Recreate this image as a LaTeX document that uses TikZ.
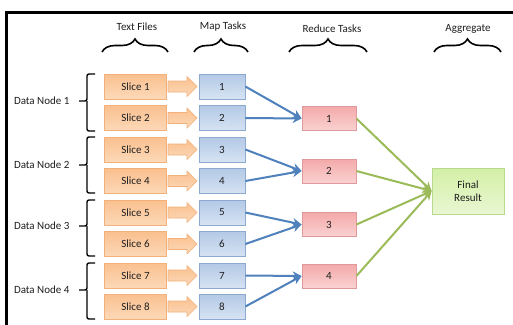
\documentclass[tikz,border=0pt]{standalone}
\usepackage{fontspec}
\setmainfont{Carlito}
\usetikzlibrary{decorations.pathreplacing,arrows.meta}
\definecolor{slicetop}{HTML}{FAC08F}
\definecolor{slicebot}{HTML}{FCD9B8}
\definecolor{sliceline}{HTML}{F2B07A}
\definecolor{maptop}{HTML}{B3C9E6}
\definecolor{mapbot}{HTML}{D6E3F3}
\definecolor{mapline}{HTML}{8EA9D0}
\definecolor{redtop}{HTML}{F4A9A9}
\definecolor{redbot}{HTML}{FAD2D2}
\definecolor{redline}{HTML}{DE9A9A}
\definecolor{fintop}{HTML}{D3EFA6}
\definecolor{finbot}{HTML}{E9F7D2}
\definecolor{finline}{HTML}{B9D98E}
\definecolor{bluearrow}{HTML}{4F81BD}
\definecolor{greenarrow}{HTML}{9BBB59}
\definecolor{txt}{HTML}{1F1F1F}
\tikzset{
  box/.style={draw, line width=0.8pt, minimum height=25pt, inner sep=0pt, text=txt},
  slice/.style={box, minimum width=62pt, top color=slicetop, bottom color=slicebot, draw=sliceline},
  maptask/.style={box, minimum width=46pt, top color=maptop, bottom color=mapbot, draw=mapline},
  redtask/.style={box, minimum width=54pt, minimum height=24pt, top color=redtop, bottom color=redbot, draw=redline},
  finalbox/.style={box, minimum width=72pt, minimum height=46pt, align=center, top color=fintop, bottom color=finbot, draw=finline},
  blockarrow/.style={top color=slicetop, bottom color=slicebot, draw=sliceline, line width=0.6pt, line join=miter},
  bluearr/.style={draw=bluearrow, line width=2pt, -{Stealth[length=9pt,width=9pt]}},
  greenarr/.style={draw=greenarrow, line width=2pt, -{Stealth[length=9pt,width=9pt]}},
  header/.style={text=txt},
  topbrace/.style={decorate, decoration={brace, amplitude=13pt, aspect=0.5}, line width=1.6pt},
  dnbrace/.style={line width=1.4pt, rounded corners=2pt},
  dnlabel/.style={anchor=east, text=txt}
}
\begin{document}
\begin{tikzpicture}[x=1pt, y=-1pt, font=\fontsize{11}{13}\selectfont]
\useasboundingbox (0,0) rectangle (513,324);
\fill[white] (0,0) rectangle (513,324);
\draw[line width=3pt] (6,325) -- (6,12) -- (514,12);

% headers
\node[header] (h1) at (137,27) {Text Files};
\node[header] (h2) at (223,27) {Map Tasks};
\node[header] (h3) at (332,29) {Reduce Tasks};
\node[header] (h4) at (468,29) {Aggregate};
\draw[topbrace] (102,52) -- (168,52);
\draw[topbrace] (194,52) -- (248,52);
\draw[topbrace] (289,52) -- (367,52);
\draw[topbrace] (434,52) -- (501,52);

% slices, arrows, map tasks
\foreach \i/\y in {1/86.5,2/118,3/149.5,4/181,5/212.5,6/244,7/275.5,8/306.5}{
  \node[slice] (s\i) at (135.5,\y) {Slice \i};
  \node[maptask] (m\i) at (222,\y) {\i};
  \path[blockarrow] ({168},{\y-5.5}) -- ({187},{\y-5.5}) -- ({187},{\y-10}) -- ({197},{\y}) -- ({187},{\y+10}) -- ({187},{\y+5.5}) -- ({168},{\y+5.5}) -- cycle;
}

% data node brackets
\foreach \n/\t/\b/\m in {1/74/131/101, 2/137/193/165, 3/200/256/226, 4/263/319/290}{
  \draw[dnbrace] (95,\t) -- (87,\t) -- (87,\m) -- (79,\m);
  \draw[dnbrace] (87,\m) -- (87,\b) -- (95,\b);
  \node[dnlabel] (d\n) at (73,\m) {Data Node \n};
}

% reduce tasks
\node[redtask] (r1) at (329,118.5) {1};
\node[redtask] (r2) at (329,171) {2};
\node[redtask] (r3) at (329,224.5) {3};
\node[redtask] (r4) at (329,276) {4};

% final
\node[finalbox] (fin) at (468,191) {Final\\Result};

% map -> reduce
\draw[bluearr] (m1.east) -- (r1.west);
\draw[bluearr] (m2.east) -- (r1.west);
\draw[bluearr] (m3.east) -- (r2.west);
\draw[bluearr] (m4.east) -- (r2.west);
\draw[bluearr] (m5.east) -- (r3.west);
\draw[bluearr] (m6.east) -- (r3.west);
\draw[bluearr] (m7.east) -- (r4.west);
\draw[bluearr] (m8.east) -- (r4.west);

% reduce -> final
\foreach \i in {1,2,3,4}{
  \draw[greenarr] (r\i.east) -- (fin.west);
}
\end{tikzpicture}
\end{document}
